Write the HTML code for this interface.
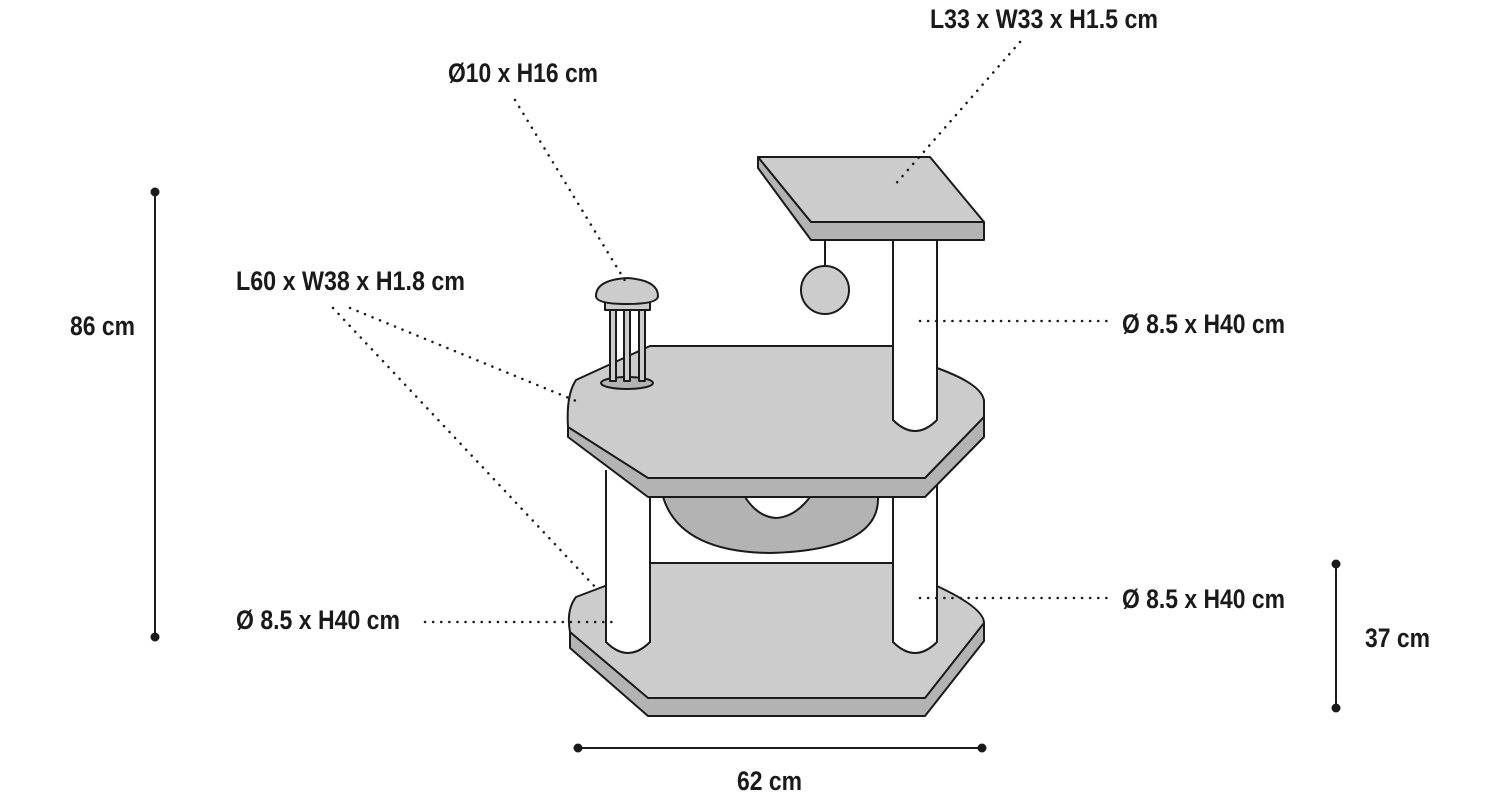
<!DOCTYPE html>
<html><head><style>
html,body{margin:0;padding:0;background:#fff;}
svg{display:block;}
text{font-family:"Liberation Sans Narrow","Liberation Sans",sans-serif;font-weight:bold;font-size:27px;fill:#1a1a1a;}
</style></head><body>
<svg width="1500" height="800" viewBox="0 0 1500 800">
<g stroke="#1a1a1a" stroke-width="2" stroke-linejoin="round">
<!-- bottom platform -->
<path d="M570,630 L570,648 L648,716 L925,716 L984,641 L984,623 Z" fill="#b3b3b3"/>
<path d="M576,597 L605,586 L937,586 Q984,608 984,623 L925,698 L648,698 L570,632 Q566,610 576,597 Z" fill="#cccccc"/>
<!-- back panel -->
<rect x="650" y="497" width="243" height="66" fill="#fff"/>
<rect x="651" y="564" width="241" height="80" fill="#cccccc" stroke="none"/>
<!-- hammock -->
<path d="M663,497 L878,497 Q880,550 770,553 Q680,552 663,497 Z" fill="#b3b3b3"/>
<path d="M745,497 L810,497 Q795,517 776,518 Q758,517 745,497 Z" fill="#fff"/>
<!-- lower posts -->
<path d="M606,470 L606,642 Q628,664 650,642 L650,490" fill="#fff"/>
<path d="M893,490 L893,642 Q915,664 937,642 L937,470" fill="#fff"/>
<!-- middle platform -->
<path d="M568,420 L568,437 L648,497 L925,497 L984,437 L984,400 Z" fill="#b3b3b3"/>
<path d="M576,380 L650,346 L892,346 L937,368 Q984,385 984,402 L984,417 L925,478 L648,478 L568,427 Q566,395 576,380 Z" fill="#cccccc"/>
<!-- upper post -->
<path d="M893,240 L893,420 Q915,442 937,420 L937,240" fill="#fff"/>
<!-- ball -->
<line x1="825" y1="240" x2="825" y2="266"/>
<circle cx="825" cy="290" r="24" fill="#cccccc"/>
<!-- top platform -->
<path d="M758,157 L758,168 L811,240 L984,240 L984,222 L811,222 Z" fill="#b3b3b3"/>
<path d="M758,157 L930,157 L984,222 L811,222 Z" fill="#cccccc"/>
<!-- toy tower -->
<ellipse cx="627" cy="383" rx="26" ry="6" fill="#b3b3b3"/>
<rect x="610" y="305" width="6" height="76" fill="#cccccc"/>
<rect x="624" y="305" width="6" height="76" fill="#cccccc"/>
<rect x="639" y="305" width="6" height="76" fill="#cccccc"/>
<path d="M605,300 L650,300 L650,310 L605,310 Z" fill="#cccccc"/>
<path d="M596,296 Q596,280 627,278 Q658,280 658,296 Q658,304 627,304 Q596,304 596,296 Z" fill="#cccccc"/>
</g>
<!-- leaders -->
<g stroke="#1a1a1a" stroke-width="2.5" stroke-dasharray="0.1 8" stroke-linecap="round" fill="none">
<line x1="515" y1="100" x2="627" y2="284"/>
<line x1="1020" y1="42" x2="893" y2="187"/>
<line x1="350" y1="308" x2="581" y2="403"/>
<line x1="333" y1="308" x2="598" y2="590"/>
<line x1="920" y1="321" x2="1108" y2="321"/>
<line x1="920" y1="598" x2="1108" y2="598"/>
<line x1="425" y1="622" x2="618" y2="622"/>
</g>
<!-- dims -->
<g stroke="#1a1a1a" stroke-width="2" fill="#1a1a1a">
<line x1="155" y1="192" x2="155" y2="637"/><circle cx="155" cy="192" r="3.5"/><circle cx="155" cy="637" r="3.5"/>
<line x1="1336" y1="564" x2="1336" y2="708"/><circle cx="1336" cy="564" r="3.5"/><circle cx="1336" cy="708" r="3.5"/>
<line x1="578" y1="748" x2="982" y2="748"/><circle cx="578" cy="748" r="3.5"/><circle cx="982" cy="748" r="3.5"/>
</g>
<text x="930" y="28" textLength="228" lengthAdjust="spacingAndGlyphs">L33 x W33 x H1.5 cm</text>
<text x="448" y="82" textLength="150" lengthAdjust="spacingAndGlyphs">Ø10 x H16 cm</text>
<text x="236" y="290" textLength="229" lengthAdjust="spacingAndGlyphs">L60 x W38 x H1.8 cm</text>
<text x="70" y="335" textLength="65" lengthAdjust="spacingAndGlyphs">86 cm</text>
<text x="1122" y="333" textLength="163" lengthAdjust="spacingAndGlyphs">Ø 8.5 x H40 cm</text>
<text x="1122" y="608" textLength="163" lengthAdjust="spacingAndGlyphs">Ø 8.5 x H40 cm</text>
<text x="236" y="629" textLength="164" lengthAdjust="spacingAndGlyphs">Ø 8.5 x H40 cm</text>
<text x="1365" y="647" textLength="65" lengthAdjust="spacingAndGlyphs">37 cm</text>
<text x="737" y="790" textLength="65" lengthAdjust="spacingAndGlyphs">62 cm</text>
</svg>
</body></html>
